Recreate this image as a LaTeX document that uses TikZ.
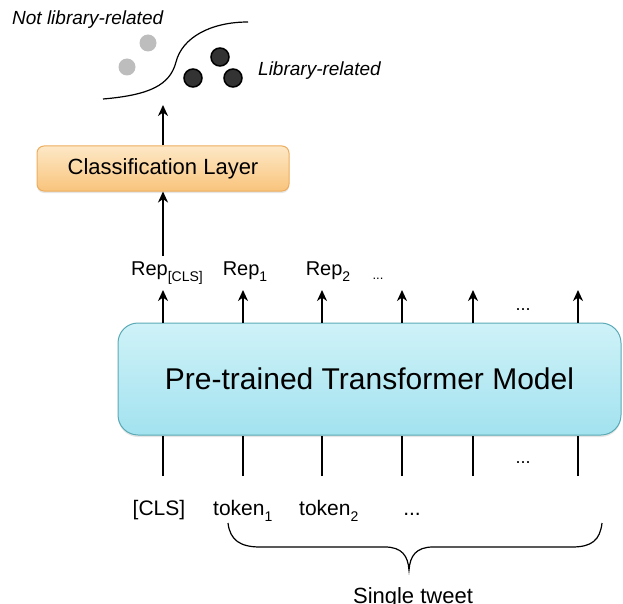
\documentclass[tikz,border=0pt]{standalone}
\usepackage{fontspec}
\setmainfont{Liberation Sans}
\usetikzlibrary{arrows.meta,shadows}
\definecolor{cyantop}{HTML}{CFF2F8}
\definecolor{cyanbot}{HTML}{A2E2EF}
\definecolor{cyanline}{HTML}{5AAAB6}
\definecolor{ortop}{HTML}{FDE8C6}
\definecolor{orbot}{HTML}{F9C47C}
\definecolor{orline}{HTML}{EDAD5E}
\definecolor{lightdot}{HTML}{BDBDBD}
\definecolor{darkdot}{HTML}{333333}
\newcommand\subtx[1]{\raisebox{-0.3em}{\fontsize{14}{14}\selectfont #1}}
\begin{document}
\begin{tikzpicture}[x=1pt,y=-1pt,
  arr/.style={line width=2.4pt,-{Stealth[length=11pt,width=10pt,inset=3.5pt]}},
  ln/.style={line width=2.6pt},
  tbox/.style={draw=cyanline,line width=1pt,rounded corners=20pt,top color=cyantop,bottom color=cyanbot,
    drop shadow={opacity=0.2,shadow xshift=0pt,shadow yshift=-2pt},
    inner sep=0pt,font=\fontsize{30}{36}\selectfont},
  cbox/.style={draw=orline,line width=1pt,rounded corners=7pt,top color=ortop,bottom color=orbot,
    drop shadow={opacity=0.2,shadow xshift=0pt,shadow yshift=-2pt},
    inner sep=0pt,font=\fontsize{22}{26}\selectfont},
  rep/.style={inner sep=0pt,anchor=base,font=\fontsize{20}{24}\selectfont},
  tok/.style={inner sep=0pt,anchor=base,font=\fontsize{21}{25}\selectfont},
  dots/.style={inner sep=0pt,anchor=base,font=\fontsize{18}{22}\selectfont},
  lab/.style={inner sep=0pt,anchor=base west,font=\fontsize{19}{23}\selectfont\itshape},
  grey/.style={circle,fill=lightdot,minimum size=17pt,inner sep=0pt},
  dark/.style={circle,fill=darkdot,draw=black,line width=1.5pt,minimum size=18pt,inner sep=0pt},
]
\useasboundingbox (0,0) rectangle (623,604);

% Transformer box
\node[tbox,minimum width=503pt,minimum height=112pt] (tm) at (369.5,379) {Pre-trained Transformer Model};

% Classification layer
\node[cbox,minimum width=252pt,minimum height=45pt] (cls) at (163,168.5) {Classification Layer};

% column coordinates
\foreach \i/\x in {1/163,2/243,3/322,4/402,5/473,6/578}{
  \coordinate (t\i) at (\x,290);
  \coordinate (b\i) at (\x,476);
  \draw[arr] (t\i |- tm.north) -- (t\i);
  \draw[ln] (b\i) -- (b\i |- tm.south);
}

% Rep labels
\node[rep] (r0) at (167,275) {Rep\subtx{[CLS]}};
\node[rep] (r1) at (245,275) {Rep\subtx{1}};
\node[rep] (r2) at (328,275) {Rep\subtx{2}};
\node[inner sep=0pt,anchor=base,font=\fontsize{13}{15}\selectfont] (r3) at (378,279) {...};
\node[dots] (d1) at (523,310) {...};
\node[dots] (d2) at (523,463) {...};

% tokens
\node[tok] (k0) at (159,515) {[CLS]};
\node[tok,anchor=base west] (k1) at (213,515) {token\subtx{1}};
\node[tok,anchor=base west] (k2) at (299,515) {token\subtx{2}};
\node[tok] (k3) at (412,515) {...};

% brace
\draw[line width=1.2pt] (228,523) .. controls (230,540) and (240,547) .. (260,547) -- (385,547)
  .. controls (402,547) and (408,556) .. (409,570)
  .. controls (410,556) and (416,547) .. (433,547) -- (572,547)
  .. controls (592,547) and (600,540) .. (602,523);
\node[tok,font=\fontsize{22}{26}\selectfont] (tw) at (413,603) {Single tweet};

% arrows to classification and output
\coordinate (repTop) at (163,256);
\coordinate (outTip) at (163,105);
\draw[arr] (repTop) -- (cls.south);
\draw[arr] (cls.north) -- (outTip);

% top: decision boundary and points
\draw[line width=1.2pt] (103,99) .. controls (150,95) and (170,85) .. (176,62)
  .. controls (182,38) and (210,22) .. (248,22);
\node[grey] (g1) at (148,43) {};
\node[grey] (g2) at (127,67) {};
\node[dark] (k1d) at (220,57) {};
\node[dark] (k2d) at (193,78) {};
\node[dark] (k3d) at (233,78) {};
\node[lab] (nl) at (12,25) {Not library-related};
\node[lab] (ll) at (258,76) {Library-related};
\end{tikzpicture}
\end{document}
